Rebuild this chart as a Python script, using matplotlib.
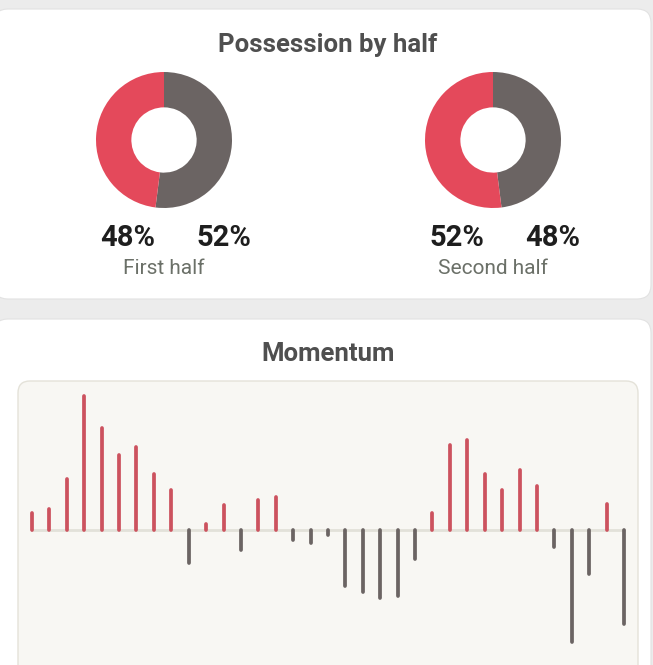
import matplotlib
matplotlib.use("Agg")
import matplotlib.pyplot as plt
from matplotlib.patches import FancyBboxPatch

plt.rcParams["font.family"] = ["Roboto", "DejaVu Sans"]

RED = "#e4495b"
BAR_RED = "#cc525e"
GRAY = "#6b6463"

# possession (home, away) per half
halves = ["First half", "Second half"]
home_pct = [48, 52]
away_pct = [52, 48]

# momentum per interval (positive = home, negative = away)
momentum = [17, 21, 51, 134, 102, 75, 83, 56, 40, -33,
            6, 25, -20, 30, 33, -10, -13, -5, -56, -62,
            -68, -66, -29, 17, 85, 90, 56, 40, 60, 44,
            -17, -112, -44, 26, -94]

W, H = 653, 665


def px_axes(fig, left, top, width, height):
    return fig.add_axes([left / W, 1 - (top + height) / H, width / W, height / H])


def main() -> None:
    fig = plt.figure(figsize=(W / 100, H / 100), dpi=100)
    fig.patch.set_facecolor("#ececec")

    bg = fig.add_axes([0, 0, 1, 1])
    bg.set_xlim(0, W)
    bg.set_ylim(H, 0)
    bg.axis("off")

    # cards
    for y0, h in [(9, 290), (319, 400)]:
        bg.add_patch(FancyBboxPatch((-6, y0), W - 1 + 6 - 1, h,
                                    boxstyle="round,pad=0,rounding_size=14",
                                    facecolor="white", edgecolor="#e2e2e2", linewidth=0.8))
    bg.add_patch(FancyBboxPatch((18, 381), 620, 320,
                                boxstyle="round,pad=0,rounding_size=12",
                                facecolor="#f8f7f3", edgecolor="#e4e2d9", linewidth=1))

    bg.text(328, 45, "Possession by half", ha="center", va="center",
            fontsize=18.5, fontweight="bold", color="#4f4f4f")
    bg.text(328, 354, "Momentum", ha="center", va="center",
            fontsize=18.5, fontweight="bold", color="#4f4f4f")

    # donuts
    centers = [164, 493]
    for cx, name, hp, ap in zip(centers, halves, home_pct, away_pct):
        ax = px_axes(fig, cx - 68, 72, 136, 136)
        ax.pie([ap, hp], colors=[GRAY, RED], startangle=90, counterclock=False,
               radius=1, wedgeprops=dict(width=0.52, edgecolor="none"))
        ax.set_xlim(-1, 1)
        ax.set_ylim(-1, 1)
        ax.set_aspect("equal")
        ax.axis("off")

        bg.text(cx - 36, 238, f"{hp}%", ha="center", va="center",
                fontsize=21, fontweight="bold", color="#1e1e1e")
        bg.text(cx + 60, 238, f"{ap}%", ha="center", va="center",
                fontsize=21, fontweight="bold", color="#1e1e1e")
        bg.text(cx, 268, name, ha="center", va="center",
                fontsize=15, color="#6b7068")

    # momentum bars
    mx = px_axes(fig, 18, 381, 620, 284)
    x = list(range(len(momentum)))
    step = 592 / (len(momentum) - 1)
    mx.set_xlim(-14 / step, 606 / step)
    mx.set_ylim(-135, 149)
    mx.axhline(0, xmin=14 / 620, xmax=606 / 620, color="#e2e1d9", linewidth=2, zorder=1)
    colors = [BAR_RED if v > 0 else GRAY for v in momentum]
    lc = mx.vlines(x, 0, momentum, colors=colors, linewidth=2.7, zorder=2)
    lc.set_capstyle("round")
    mx.axis("off")

    fig.savefig("out.png", dpi=100, facecolor=fig.get_facecolor())


if __name__ == "__main__":
    main()
